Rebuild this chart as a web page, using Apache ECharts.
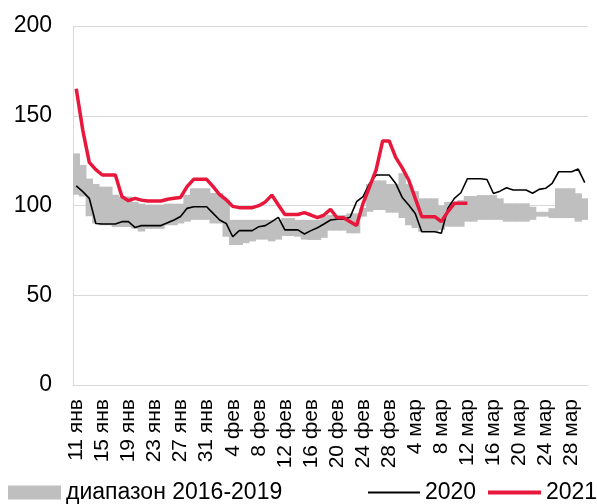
<!DOCTYPE html>
<html>
<head>
<meta charset="utf-8">
<script src="https://cdn.jsdelivr.net/npm/echarts@6/dist/echarts.min.js"></script>
<style>
html,body{margin:0;padding:0;background:#fff;}
#chart{width:597px;height:504px;}
</style>
</head>
<body>
<div id="chart"></div>
<script>
var categories = [
 '11 янв','12 янв','13 янв','14 янв','15 янв','16 янв','17 янв','18 янв','19 янв','20 янв',
 '21 янв','22 янв','23 янв','24 янв','25 янв','26 янв','27 янв','28 янв','29 янв','30 янв','31 янв',
 '1 фев','2 фев','3 фев','4 фев','5 фев','6 фев','7 фев','8 фев','9 фев','10 фев',
 '11 фев','12 фев','13 фев','14 фев','15 фев','16 фев','17 фев','18 фев','19 фев','20 фев',
 '21 фев','22 фев','23 фев','24 фев','25 фев','26 фев','27 фев','28 фев',
 '1 мар','2 мар','3 мар','4 мар','5 мар','6 мар','7 мар','8 мар','9 мар','10 мар',
 '11 мар','12 мар','13 мар','14 мар','15 мар','16 мар','17 мар','18 мар','19 мар','20 мар',
 '21 мар','22 мар','23 мар','24 мар','25 мар','26 мар','27 мар','28 мар','29 мар','30 мар'
];

var rangeMax = [
 129,122.6,115,112,110.5,110.5,106,105,105,102,
 101,100.5,100.5,100.5,101,101,101,106,109.6,109.6,109.6,
 107,107,103,92,92,92,92,92,92,92,
 92,93,93,92,92,92,92,94,94.7,94.7,
 94.7,95.6,95.6,98.6,112,114,114,112,
 112,118,112,108,104,104,104,100,102,102,
 103,105.3,105.3,105.8,105.8,105.8,104,101.2,101.2,101.2,
 101.2,99.3,96.5,96.5,98.5,109.6,109.6,109.6,106.8,104
];
var rangeMin = [
 106,105,94,90,89,89,88,88,88,87,
 85.5,87,87,87,89,89,90,91,92,92,92,
 90,90,82.6,78,78,79,80,81,81,80,
 81,83,83,82.6,81,80.8,80.8,82,86,86,
 86,84.5,84.5,93.8,96.5,97.5,97.5,96,
 96,93,89,87.4,85.4,85.4,85.4,86.4,88.2,88.2,
 88.2,91,91,92,92,92,92,91,91,91,
 91,92,93.8,93.8,93,93,93,93,91,92
];
var y2020 = [
 110.9,107.7,104,90,89.7,89.7,89.7,91,91,87.8,
 88.8,88.8,88.8,88.8,90.4,91.9,93.9,98.4,99.3,99.3,99.3,
 95.6,91.9,90,82.6,86,86,86,88.2,88.8,91,
 93.4,86.4,86.4,86.4,84.1,86,87.6,89.7,91.9,92.3,
 92.3,93.4,102.1,104.9,112.3,117,117,117,
 112.3,104.5,100.3,95.6,85.4,85.4,85.4,84.5,98.4,104,
 107.1,114.9,114.9,114.9,114.5,106.7,108,109.9,108.6,108.6,
 108.6,106.8,109,109.6,112.3,118.8,118.8,118.8,120.3,112.7
];
var y2021 = [
 165,142,124,120,117,117,117,105,102.7,104,
 103,102.5,102.5,102.5,103.5,104,104.5,110.5,114.6,114.6,114.6,
 110.5,106,103.2,99.5,98.8,98.8,98.8,99.9,102,105.8,
 100.3,95,95,95,96,94.7,93.2,94.7,97.9,93.2,
 93.2,91,88.8,101.2,110.5,119.8,136,136,
 126.8,121,114.2,104,93.8,93.8,93.8,91,96.6,101.2,
 101.2,101.2
];
var yTicks = {min: 0, max: 200, interval: 50};

var rangeSpan = rangeMax.map(function(v, i){ return +(v - rangeMin[i]).toFixed(2); });

var FONT = '"Liberation Sans", Arial, sans-serif';
var chart = echarts.init(document.getElementById('chart'), null, {renderer: 'canvas'});
var legendText = {fontFamily: FONT, fontSize: 23, color: '#000'};
chart.setOption({
  animation: false,
  backgroundColor: '#fff',
  grid: {left: 73, right: 9, top: 26, bottom: 119, containLabel: false},
  legend: [
    {data: ['диапазон 2016-2019'], left: 8, top: 481, padding: 0, icon: 'rect', itemWidth: 53, itemHeight: 14, textStyle: legendText},
    {data: ['2020'], left: 368, top: 481, padding: 0, icon: 'rect', itemWidth: 52, itemHeight: 2, textStyle: legendText},
    {data: ['2021'], left: 488, top: 481, padding: 0, icon: 'rect', itemWidth: 53, itemHeight: 4, textStyle: legendText}
  ],
  xAxis: {
    type: 'category',
    data: categories,
    boundaryGap: true,
    axisLine: {show: true, lineStyle: {color: '#d9d9d9', width: 1}},
    axisTick: {show: false},
    axisLabel: {interval: 3, rotate: 90, margin: 14, fontFamily: FONT, fontSize: 21, color: '#000'},
    splitLine: {show: false}
  },
  yAxis: {
    type: 'value',
    min: yTicks.min, max: yTicks.max, interval: yTicks.interval,
    axisLine: {show: true, lineStyle: {color: '#d9d9d9', width: 1}},
    axisTick: {show: false},
    axisLabel: {margin: 21, fontFamily: FONT, fontSize: 23, color: '#000'},
    splitLine: {show: true, lineStyle: {color: '#d9d9d9', width: 1}}
  },
  series: [
    {name: 'base', type: 'bar', stack: 'r', data: rangeMin, barWidth: 7.4,
     itemStyle: {color: 'rgba(0,0,0,0)'}, silent: true, z: 1},
    {name: 'диапазон 2016-2019', type: 'bar', stack: 'r', data: rangeSpan, barWidth: 7.4,
     itemStyle: {color: '#bfbfbf'}, z: 1},
    {name: '2020', type: 'line', data: y2020, symbol: 'none', z: 3,
     lineStyle: {color: '#000', width: 1.6}, itemStyle: {color: '#000'}},
    {name: '2021', type: 'line', data: y2021, symbol: 'none', z: 4,
     lineStyle: {color: '#e8173c', width: 3.5}, itemStyle: {color: '#e8173c'}}
  ]
});
</script>
</body>
</html>
